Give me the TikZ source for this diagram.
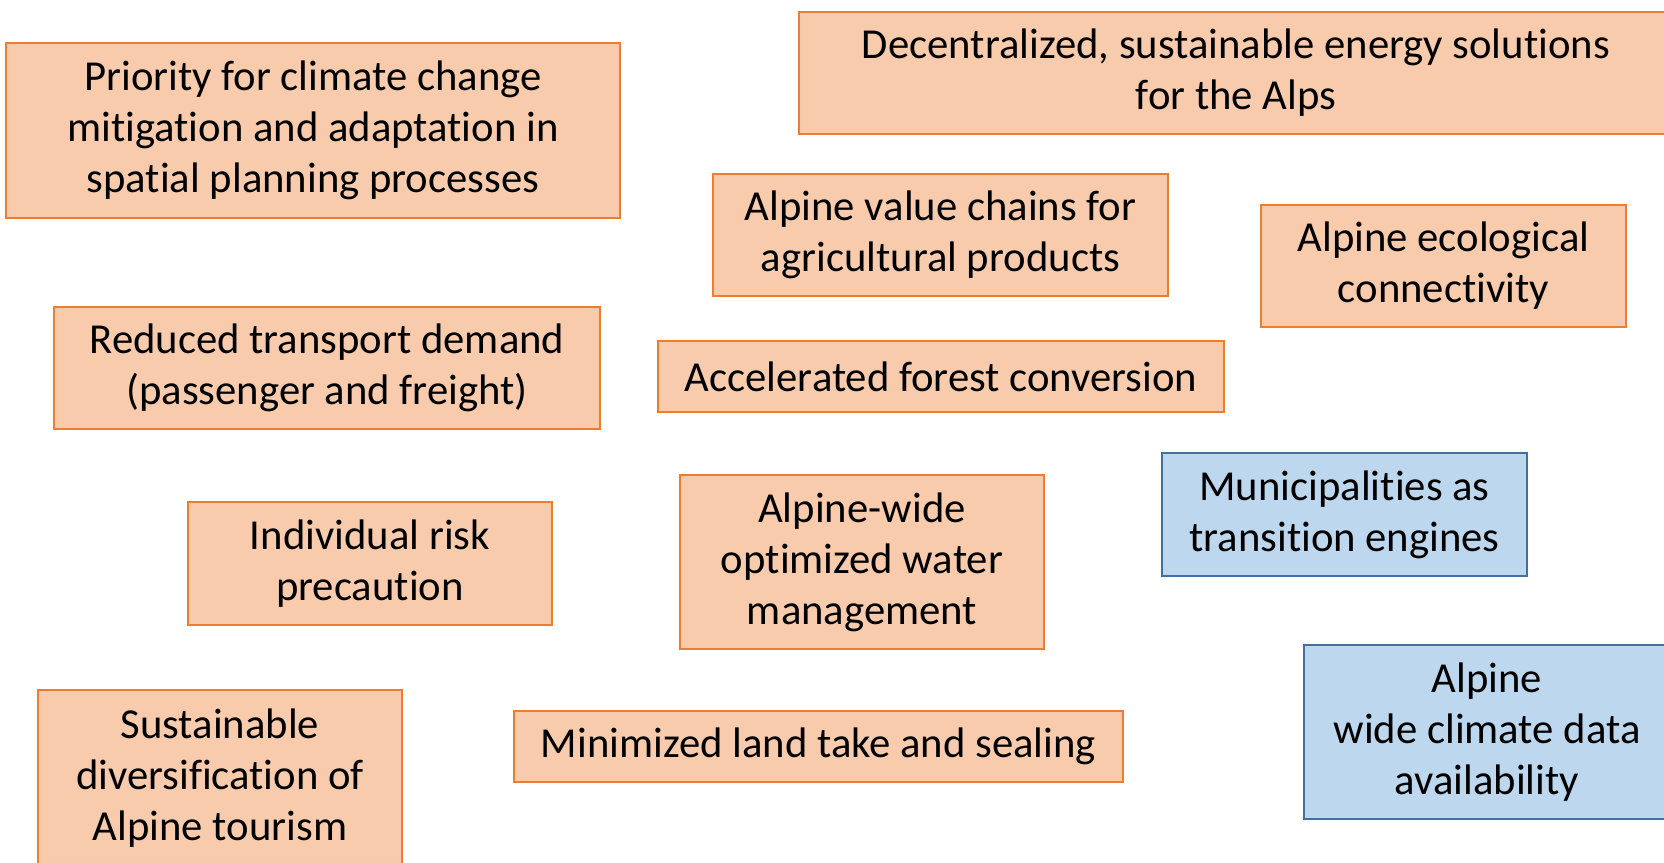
\documentclass[tikz,border=0pt]{standalone}
\usepackage{fontspec}
\setmainfont{Carlito}[Ligatures=NoCommon]
\tikzset{
  box/.style={draw, line width=1.2pt, align=center, inner sep=0pt, text=black,
    font=\fontsize{42.7}{51}\selectfont},
  obox/.style={box, fill=orangefill, draw=orangeline},
  bbox/.style={box, fill=bluefill, draw=blueline},
}
\definecolor{orangefill}{HTML}{F8CBAD}
\definecolor{orangeline}{HTML}{ED7D31}
\definecolor{bluefill}{HTML}{BDD7EE}
\definecolor{blueline}{HTML}{41719C}
\begin{document}
\begin{tikzpicture}[x=1pt,y=-1pt]
\path[use as bounding box] (0,0) rectangle (1664,862);
\begin{scope}
\clip (0,0) rectangle (1664,862);
\node[obox, minimum width=614, minimum height=175] (prio) at (313,130.5) {Priority for climate change\\mitigation and adaptation in\\spatial planning processes};
\node[obox, minimum width=874, minimum height=122] (energy) at (1236,73) {Decentralized, sustainable energy solutions\\for the Alps};
\node[obox, minimum width=455, minimum height=122] (value) at (940.5,235) {Alpine value chains for\\agricultural products};
\node[obox, minimum width=365, minimum height=122] (ecol) at (1443.5,266) {Alpine ecological\\connectivity};
\node[obox, minimum width=546, minimum height=122] (transport) at (327,368) {Reduced transport demand\\(passenger and freight)};
\node[obox, minimum width=566, minimum height=71] (forest) at (941,376.5) {Accelerated forest conversion};
\node[bbox, minimum width=365, minimum height=123] (munic) at (1344.5,514.5) {Municipalities as\\transition engines};
\node[obox, minimum width=364, minimum height=123] (risk) at (370,563.5) {Individual risk\\precaution};
\node[obox, minimum width=364, minimum height=174] (water) at (862,562) {Alpine-wide\\optimized water\\management};
\node[bbox, minimum width=366, minimum height=174] (climate) at (1487,732) {Alpine\\wide climate data\\availability};
\node[obox, minimum width=364, minimum height=176] (tourism) at (220,778) {Sustainable\\diversification of\\Alpine tourism};
\node[obox, minimum width=609, minimum height=71] (land) at (818.5,746.5) {Minimized land take and sealing};
\end{scope}
\end{tikzpicture}
\end{document}
